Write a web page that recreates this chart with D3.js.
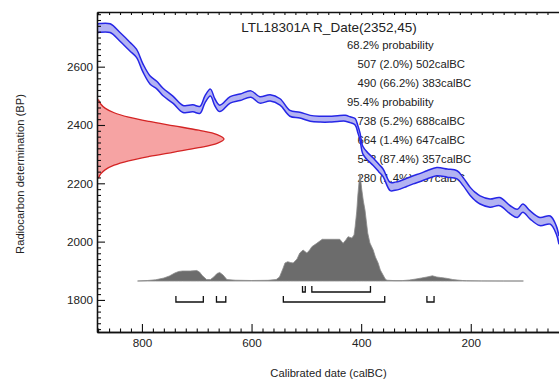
<!DOCTYPE html>
<html><head><meta charset="utf-8">
<script src="https://cdn.jsdelivr.net/npm/d3@7"></script>
<style>
body{margin:0;background:#fff}
svg{display:block}
text{font-family:"Liberation Sans",Arial,sans-serif}
</style>
</head><body>
<svg id="chart" width="559" height="380"></svg>
<script>
// ---- data ----
const titleText = "LTL18301A R_Date(2352,45)";
const summaryLines = [
  "68.2% probability",
  "507 (2.0%) 502calBC",
  "490 (66.2%) 383calBC",
  "95.4% probability",
  "738 (5.2%) 688calBC",
  "664 (1.4%) 647calBC",
  "542 (87.4%) 357calBC",
  "280 (1.4%) 267calBC"
];
const xTickValues = [800, 600, 400, 200];
const yTickValues = [1800, 2000, 2200, 2400, 2600];

// calibration curve (calBC, BP, 1-sigma)
const curveYears = [882,877,858,840,822,810,798,785,773,762,743,725,707,694,685,675,667,658,639,621,601,585,566,548,530,512,493,475,457,443,429,420,411,406,402,397,387,378,368,360,347,338,329,317,305,292,280,262,243,225,214,201,192,183,165,147,128,115,105,92,74,55,44,39];
const curveBP    = [2731,2733,2732,2702,2669,2646,2595,2554,2537,2514,2486,2455,2457,2452,2488,2511,2478,2457,2486,2495,2506,2486,2493,2479,2440,2434,2423,2420,2420,2422,2423,2418,2411,2385,2360,2314,2290,2274,2253,2236,2189,2190,2194,2203,2212,2220,2229,2240,2235,2229,2206,2172,2155,2143,2132,2137,2109,2097,2115,2092,2069,2074,2040,2005];
const curveSigma = [15,15,15,15,15,14,14,14,13,13,12,12,12,12,12,12,12,11,11,11,11,11,11,11,10,10,10,10,10,10,10,10,11,12,12,13,13,13,13,13,14,14,14,14,14,14,14,14,14,14,14,14,14,14,14,14,14,14,14,14,14,14,14,14];

// radiocarbon likelihood (BP, relative density)
const likelihoodBP      = [2217,2232,2247,2262,2277,2292,2307,2322,2337,2352,2367,2382,2397,2412,2427,2442,2457,2472,2487];
const likelihoodDensity = [0.011,0.029,0.066,0.135,0.249,0.411,0.607,0.801,0.946,1,0.946,0.801,0.607,0.411,0.249,0.135,0.066,0.029,0.011];

// calibrated posterior (calBC, relative density)
const posteriorYears   = [808,790,775,760,750,740,733,726,712,700,695,690,682,675,669,663,658,652,645,630,600,570,555,549,543,539,534,529,524,517,512,506,499,494,490,481,471,457,448,439,433,428,424,417,413,411,408,406,404,402,399,396,393,388,384,378,374,369,365,360,356,353,340,325,312,300,290,280,270,262,255,248,242,233,225,215,208,180,140,104];
const posteriorDensity = [0,0.5,1.2,3,5,8,9.5,10,10,10.5,9,5.5,1.5,1.5,4,7.5,8.5,6,1.5,0.8,0.5,0.7,1.5,4,12,18,19.3,18.5,18,22,28,31,28,31,34.3,37.7,41.7,41.7,41.7,41.7,37.7,41,44.3,43,46,54.3,70,86,98,107,92,80,71,48,38,31,24,18,11,6,2,0.8,0.4,0.4,1,2,3,4,5.2,4,3.5,3,2.5,1.5,1,0.5,0.3,0.1,0,0];

const range68 = [[507,502],[490,383]];
const range95 = [[738,688],[664,647],[542,357],[280,267]];

// ---- chart ----
const svg = d3.select("#chart");
const L = 97, R = 559, T = 12, B = 332;
const x = d3.scaleLinear().domain([882, 39]).range([L, R]);
const y = d3.scaleLinear().domain([1690, 2787.5]).range([B, T]);
const wScale = d3.scaleLinear().domain([0, 1]).range([L, 224]);
const pScale = d3.scaleLinear().domain([0, d3.max(posteriorDensity)]).range([281, 174]);

svg.append("defs").append("clipPath").attr("id","clip")
  .append("rect").attr("x",L).attr("y",T).attr("width",R-L+5).attr("height",B-T);

// summary text (drawn below the curves)
svg.append("text").attr("x",329).attr("y",32).attr("text-anchor","middle")
  .attr("font-size","13.5px").attr("fill","#222").text(titleText);
svg.append("g").selectAll("text").data(summaryLines).join("text")
  .attr("x", d => d.includes("probability") ? 347 : 357.5)
  .attr("y", (d,i) => 49 + 19*i)
  .attr("font-size","11.3px").attr("fill","#222")
  .text(d => d);

const plot = svg.append("g").attr("clip-path","url(#clip)");

// calibration curve band
const cal = curveYears.map((yr,i)=>({yr, bp:curveBP[i], s:curveSigma[i]}));
plot.append("path").datum(cal)
  .attr("d", d3.area().x(d=>x(d.yr)).y0(d=>y(d.bp-d.s)).y1(d=>y(d.bp+d.s)).curve(d3.curveCatmullRom))
  .attr("fill","#b3b3f2");
[1,-1].forEach(sgn=>{
  plot.append("path").datum(cal)
    .attr("d", d3.line().x(d=>x(d.yr)).y(d=>y(d.bp+sgn*d.s)).curve(d3.curveCatmullRom))
    .attr("fill","none").attr("stroke","#2626e6").attr("stroke-width",1.5);
});

// likelihood (red)
const lik = likelihoodBP.map((bp,i)=>({bp, d:likelihoodDensity[i]}));
plot.append("path").datum(lik)
  .attr("d", d3.area().y(d=>y(d.bp)).x0(L).x1(d=>wScale(d.d)).curve(d3.curveCatmullRom))
  .attr("fill","#f6a3a3");
plot.append("path").datum(lik)
  .attr("d", d3.line().y(d=>y(d.bp)).x(d=>wScale(d.d)).curve(d3.curveCatmullRom))
  .attr("fill","none").attr("stroke","#d42424").attr("stroke-width",1.3);

// posterior (gray)
const post = posteriorYears.map((yr,i)=>({yr, d:posteriorDensity[i]}));
plot.append("path").datum(post)
  .attr("d", d3.area().x(d=>x(d.yr)).y0(pScale(0)).y1(d=>pScale(d.d)).curve(d3.curveLinear))
  .attr("fill","#6c6c6c").attr("stroke","#8c8c8c").attr("stroke-width",0.8);

// range brackets
function brackets(data, yLine){
  const g = svg.append("g").attr("fill","none").attr("stroke","#111").attr("stroke-width",1.3);
  data.forEach(([a,b])=>{
    g.append("path").attr("d", `M${x(a)},${yLine-6}V${yLine}H${x(b)}V${yLine-6}`);
  });
}
brackets(range68, 292);
brackets(range95, 302);

// axes
const axisStyle = g => { g.selectAll("path.domain").attr("stroke","#111").attr("stroke-width",1.3);
  g.selectAll(".tick line").attr("stroke","#111").attr("stroke-width",1.1);
  g.selectAll("text").attr("font-family","Liberation Sans, Arial, sans-serif").attr("font-size","11.7px").attr("fill","#222"); };

const xMinor = d3.range(60, 881, 20).filter(v => v % 200 !== 0);
svg.append("g").attr("transform",`translate(0,${B})`)
  .call(d3.axisBottom(x).tickValues(xMinor).tickSizeInner(-3.5).tickSizeOuter(0).tickFormat(""))
  .call(axisStyle);
svg.append("g").attr("transform",`translate(0,${B})`)
  .call(d3.axisBottom(x).tickValues(xTickValues).tickSizeInner(-8).tickSizeOuter(0).tickPadding(7).tickFormat(d3.format("d")))
  .call(axisStyle);
svg.append("g").attr("transform",`translate(0,${T})`)
  .call(d3.axisTop(x).tickValues(xMinor.concat(xTickValues)).tickSizeInner(-3).tickSizeOuter(0).tickFormat(""))
  .call(axisStyle);

const yMinor = d3.range(1700, 2781, 20).filter(v => v % 200 !== 0);
svg.append("g").attr("transform",`translate(${L},0)`)
  .call(d3.axisLeft(y).tickValues(yMinor).tickSizeInner(-4).tickSizeOuter(0).tickFormat(""))
  .call(axisStyle);
svg.append("g").attr("transform",`translate(${L},0)`)
  .call(d3.axisLeft(y).tickValues(yTickValues).tickSizeInner(-8).tickSizeOuter(0).tickPadding(4).tickFormat(d3.format("d")))
  .call(axisStyle);

// axis titles
svg.append("text").attr("x",328.5).attr("y",377).attr("text-anchor","middle")
  .attr("font-size","11.2px").attr("fill","#222").text("Calibrated date (calBC)");
svg.append("text").attr("transform","translate(24,174) rotate(-90)").attr("text-anchor","middle")
  .attr("font-size","11.2px").attr("fill","#222").text("Radiocarbon determination (BP)");
</script>
</body></html>
